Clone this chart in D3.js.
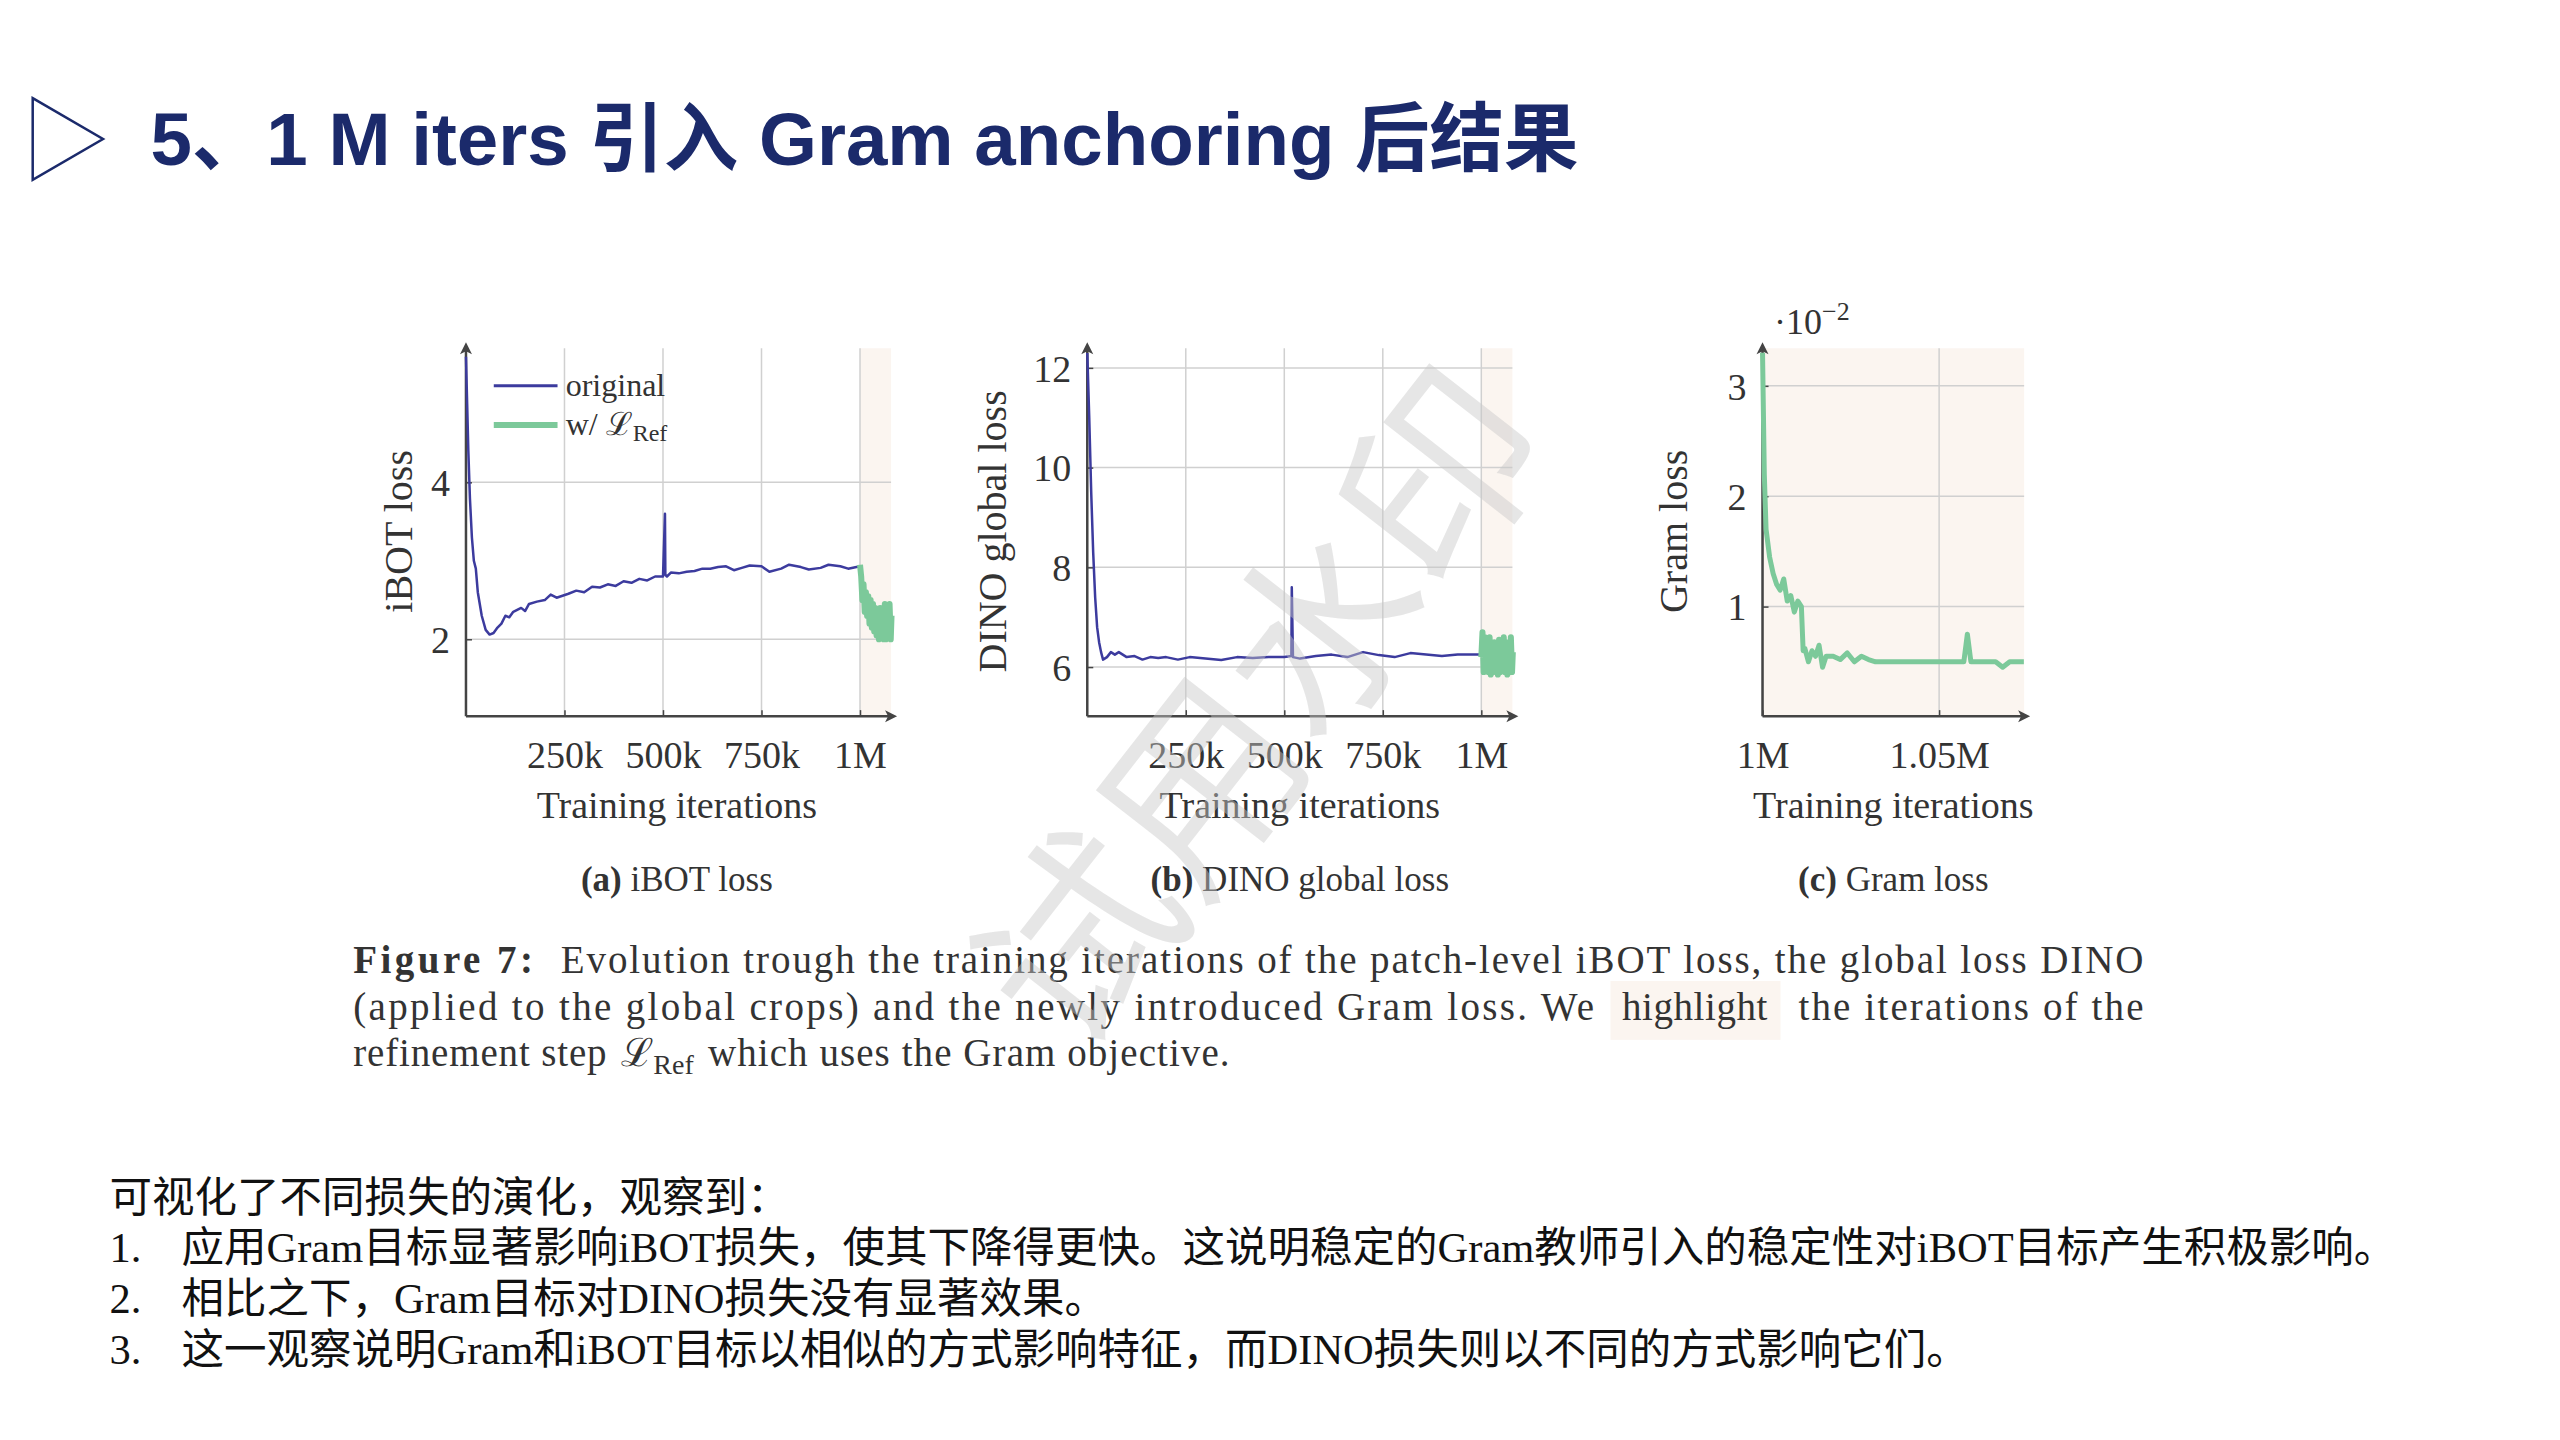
<!DOCTYPE html>
<html><head><meta charset="utf-8">
<script src="https://cdn.jsdelivr.net/npm/d3@7/dist/d3.min.js"></script>
<style>body{margin:0;background:#fff}svg{display:block}</style></head>
<body><svg id="c" width="2560" height="1440"></svg>
<script>
// ---------- data ----------
const ibotX = [0,3,6,10,15,20,25,30,40,50,60,70,80,90,100,110,120,140,150,160,180,200,215,230,260,280,300,320,340,360,380,400,420,440,460,480,500,505,506,510,520,540,560,580,600,620,640,660,680,700,720,750,770,800,820,850,870,900,920,950,970,1000];
const ibotY = [5.6,5.0,4.4,3.8,3.3,3.0,2.9,2.6,2.3,2.12,2.06,2.08,2.15,2.2,2.3,2.28,2.35,2.4,2.36,2.45,2.48,2.5,2.57,2.53,2.58,2.62,2.6,2.67,2.66,2.7,2.68,2.74,2.72,2.77,2.75,2.8,2.8,3.6,2.82,2.8,2.85,2.84,2.86,2.87,2.9,2.9,2.92,2.93,2.88,2.91,2.94,2.93,2.86,2.9,2.95,2.92,2.89,2.91,2.95,2.93,2.9,2.93];
const ibotRefX = [1000,1003,1006,1009,1012,1015,1018,1021,1024,1027,1030,1033,1036,1039,1042,1045,1048,1051,1054,1057,1060,1063,1066,1069,1072,1075,1078,1080];
const ibotRefY = [2.95,2.8,2.5,2.7,2.35,2.6,2.3,2.55,2.2,2.5,2.15,2.45,2.1,2.4,2.05,2.35,2.0,2.4,2.05,2.35,2.0,2.45,2.0,2.4,2.05,2.45,2.0,2.3];
const dinoX = [0,5,10,15,20,25,30,35,40,50,60,70,80,100,120,140,160,180,200,230,260,300,340,380,420,460,500,518,519,522,540,580,620,660,700,740,780,820,860,900,940,1000];
const dinoY = [12.3,11.0,9.5,8.3,7.4,6.8,6.5,6.3,6.15,6.2,6.3,6.25,6.3,6.2,6.22,6.15,6.2,6.18,6.2,6.15,6.2,6.17,6.14,6.2,6.18,6.2,6.2,6.22,7.6,6.2,6.17,6.22,6.25,6.2,6.3,6.24,6.2,6.28,6.25,6.22,6.25,6.25];
const dinoRefX = [1000,1003,1006,1009,1012,1015,1018,1021,1024,1027,1030,1033,1036,1039,1042,1045,1048,1051,1054,1057,1060,1063,1066,1069,1072,1075,1078,1080];
const dinoRefY = [6.2,6.7,5.9,6.6,5.95,6.5,5.9,6.6,5.85,6.45,5.9,6.5,5.95,6.4,5.85,6.55,5.9,6.45,5.95,6.6,5.9,6.5,5.85,6.45,5.95,6.6,5.9,6.3];
const gramX = [1000,1000.5,1001,1002,1003,1004,1005,1006,1007,1008,1009,1010,1011,1011.5,1012,1013,1014,1015,1016,1017,1018,1020,1022,1024,1026,1028,1030,1032,1035,1040,1045,1050,1055,1057,1058,1059,1062,1066,1068,1070,1074];
const gramY = [3.3,2.2,1.7,1.45,1.3,1.2,1.15,1.25,1.05,1.1,0.95,1.05,1.0,0.6,0.62,0.5,0.6,0.55,0.65,0.45,0.55,0.55,0.52,0.58,0.5,0.55,0.52,0.5,0.5,0.5,0.5,0.5,0.5,0.5,0.75,0.5,0.5,0.5,0.45,0.5,0.5];
const ticksAB = [250,500,750,1000];
const tickLabelsAB = ["250k","500k","750k","1M"];
const ticksC = [1000,1050];
const tickLabelsC = ["1M","1.05M"];
const caption = [
 "Figure 7:",
 "Evolution trough the training iterations of the patch-level iBOT loss, the global loss DINO",
 "(applied to the global crops) and the newly introduced Gram loss.  We",
 "highlight",
 "the iterations of the",
 "refinement step",
 "which uses the Gram objective."
];
const notes = [
 "可视化了不同损失的演化，观察到：",
 "应用Gram目标显著影响iBOT损失，使其下降得更快。这说明稳定的Gram教师引入的稳定性对iBOT目标产生积极影响。",
 "相比之下，Gram目标对DINO损失没有显著效果。",
 "这一观察说明Gram和iBOT目标以相似的方式影响特征，而DINO损失则以不同的方式影响它们。"
];

// ---------- layout ----------
const k = 1.635;
const P = v => v*k;
const svg = d3.select("#c");
const BLUE="#3c3b9e", GREEN="#7cc99a", HL="#fbf5f0", GRID="#d0d0d0", TXT="#333";
const SERIF="'Liberation Serif','DejaVu Serif',serif";
const CJK="'Liberation Serif','Noto Sans CJK SC',serif";

// title
svg.append("path").attr("d",`M${P(20)},${P(60)} L${P(63)},${P(85)} L${P(20)},${P(110)} Z`)
  .attr("fill","none").attr("stroke","#1b2a6b").attr("stroke-width",2.5);
svg.append("text").attr("x",P(92)).attr("y",P(101)).attr("font-family","'Liberation Sans','Noto Sans CJK SC',sans-serif")
  .attr("font-weight",700).attr("font-size",74.5).attr("fill","#1b2a6b").text("5、1 M iters 引入 Gram anchoring 后结果");

function panel(o){
  const g = svg.append("g");
  const x = d3.scaleLinear().domain(o.xd).range([P(o.x0),P(o.x1)]);
  const y = d3.scaleLinear().domain(o.yd).range([P(o.y0),P(o.y1)]);
  const top=P(213), bot=P(438), left=P(o.x0), right=P(o.xe);
  g.append("rect").attr("x",x(o.hl)).attr("y",top).attr("width",right-x(o.hl)).attr("height",bot-top).attr("fill",HL);
  o.xt.forEach(t=>g.append("line").attr("x1",x(t)).attr("x2",x(t)).attr("y1",top).attr("y2",bot).attr("stroke",GRID).attr("stroke-width",1.5));
  o.yt.forEach(t=>g.append("line").attr("x1",left).attr("x2",right).attr("y1",y(t)).attr("y2",y(t)).attr("stroke",GRID).attr("stroke-width",1.5));
  const ax = d3.axisBottom(x).tickValues(o.xt).tickFormat((d,i)=>o.xl[i]).tickSize(6).tickSizeOuter(0);
  const ag = g.append("g").attr("transform",`translate(0,${bot})`).call(ax);
  ag.select(".domain").remove();
  ag.selectAll("line").attr("stroke","#444").attr("stroke-width",1.5).attr("y1",-6).attr("y2",0);
  ag.selectAll("text").attr("font-family",SERIF).attr("font-size",38).attr("fill",TXT).attr("dy",0).attr("y",P(470)-bot);
  const ay = d3.axisLeft(y).tickValues(o.yt).tickFormat(d3.format("d")).tickSize(6).tickSizeOuter(0);
  const yg = g.append("g").attr("transform",`translate(${left},0)`).call(ay);
  yg.select(".domain").remove();
  yg.selectAll("line").attr("stroke","#444").attr("stroke-width",1.5).attr("x2",6).attr("x1",0);
  yg.selectAll("text").attr("font-family",SERIF).attr("font-size",38).attr("fill",TXT).attr("x",-16).attr("dy","0.35em");
  g.append("line").attr("x1",left).attr("x2",right).attr("y1",bot).attr("y2",bot).attr("stroke","#444").attr("stroke-width",2.5);
  g.append("line").attr("x1",left).attr("x2",left).attr("y1",bot).attr("y2",top).attr("stroke","#444").attr("stroke-width",2.5);
  g.append("path").attr("d",`M${right+6},${bot} l-12,-6 l3,6 l-3,6 Z`).attr("fill","#444");
  g.append("path").attr("d",`M${left},${top-6} l-6,12 l6,-3 l6,3 Z`).attr("fill","#444");
  const line = d3.line().x(d=>x(d[0])).y(d=>y(d[1]));
  o.series.forEach(s=>{
    g.append("path").datum(d3.zip(s.x,s.y)).attr("d",line).attr("fill","none")
      .attr("stroke",s.c).attr("stroke-width",s.w).attr("stroke-linejoin","round");
  });
  g.append("text").attr("transform",`translate(${P(o.ylx)},${P(325)}) rotate(-90)`).attr("text-anchor","middle")
    .attr("font-family",SERIF).attr("font-size",40).attr("fill",TXT).text(o.ylab);
  g.append("text").attr("x",P(o.tx)).attr("y",P(500)).attr("text-anchor","middle").attr("font-family",SERIF)
    .attr("font-size",38).attr("fill",TXT).text("Training iterations");
  const st = g.append("text").attr("x",P(o.tx)).attr("y",P(545)).attr("text-anchor","middle").attr("font-family",SERIF)
    .attr("font-size",35).attr("fill",TXT);
  st.append("tspan").attr("font-weight",700).text(o.sub[0]);
  st.append("tspan").text(" "+o.sub[1]);
  return {g,x,y};
}

panel({xd:[0,1000],x0:285,x1:526,xe:545,yd:[2,4],y0:391,y1:295,hl:1000,xt:ticksAB,xl:tickLabelsAB,yt:[2,4],
  series:[{x:ibotX,y:ibotY,c:BLUE,w:2.5},{x:ibotRefX,y:ibotRefY,c:GREEN,w:6}],ylab:"iBOT loss",ylx:252,tx:414,sub:["(a)","iBOT loss"]});
panel({xd:[0,1000],x0:665,x1:906,xe:925,yd:[6,12],y0:408,y1:225,hl:1000,xt:ticksAB,xl:tickLabelsAB,yt:[6,8,10,12],
  series:[{x:dinoX,y:dinoY,c:BLUE,w:2.5},{x:dinoRefX,y:dinoRefY,c:GREEN,w:6}],ylab:"DINO global loss",ylx:615,tx:795,sub:["(b)","DINO global loss"]});
panel({xd:[1000,1050],x0:1078,x1:1186,xe:1238,yd:[1,3],y0:371,y1:236,hl:1000,xt:ticksC,xl:tickLabelsC,yt:[1,2,3],
  series:[{x:gramX,y:gramY,c:GREEN,w:5}],ylab:"Gram loss",ylx:1032,tx:1158,sub:["(c)","Gram loss"]});
svg.append("text").attr("x",P(1085)).attr("y",P(204)).attr("font-family",SERIF).attr("font-size",36).attr("fill",TXT)
  .text("·10").append("tspan").attr("dy",-14).attr("font-size",26).text("−2");

// legend
const lg = svg.append("g");
lg.append("line").attr("x1",P(302)).attr("x2",P(341)).attr("y1",P(236)).attr("y2",P(236)).attr("stroke",BLUE).attr("stroke-width",3);
lg.append("line").attr("x1",P(302)).attr("x2",P(341)).attr("y1",P(260)).attr("y2",P(260)).attr("stroke",GREEN).attr("stroke-width",6);
lg.append("text").attr("x",P(346)).attr("y",P(242)).attr("font-family",SERIF).attr("font-size",32).attr("fill",TXT).text("original");
const l2=lg.append("text").attr("x",P(346)).attr("y",P(266)).attr("font-family",SERIF).attr("font-size",32).attr("fill",TXT);
l2.append("tspan").text("w/ ");
l2.append("tspan").text("ℒ");
l2.append("tspan").attr("font-size",24).attr("dy",6).text("Ref");

// caption
const cf = {"font-family":SERIF,"font-size":39,"fill":TXT};
function tx(xx,yy,s,extra){const t=svg.append("text").attr("x",P(xx)).attr("y",P(yy));Object.entries(cf).forEach(([a,b])=>t.attr(a,b));if(extra)Object.entries(extra).forEach(([a,b])=>t.attr(a,b));t.text(s);return t;}
tx(216,595,caption[0],{"font-weight":700,textLength:P(326-216),lengthAdjust:"spacing"});
tx(343,595,caption[1],{textLength:P(1311-343),lengthAdjust:"spacing"});
svg.append("rect").attr("x",P(985)).attr("y",P(600)).attr("width",P(104)).attr("height",P(36)).attr("fill",HL);
tx(216,624,caption[2],{textLength:P(975-216),lengthAdjust:"spacing"});
tx(992,624,caption[3],{textLength:P(1081-992),lengthAdjust:"spacing"});
tx(1100,624,caption[4],{textLength:P(1311-1100),lengthAdjust:"spacing"});
tx(216,652,caption[5],{textLength:P(371-216),lengthAdjust:"spacing"});
const lr=tx(380,652,""); lr.append("tspan").text("ℒ"); lr.append("tspan").attr("font-size",28).attr("dy",8).text("Ref");
tx(433,652,caption[6],{textLength:P(752-433),lengthAdjust:"spacing"});

// watermark
svg.append("text").attr("transform",`translate(${P(780)},${P(440)}) rotate(-52)`).attr("text-anchor","middle")
  .attr("dominant-baseline","middle").attr("font-family","'Noto Sans CJK SC',sans-serif").attr("font-size",P(120))
  .attr("fill","#c8c8c8").attr("fill-opacity",0.45).text("试用水印");

// notes
const nf = {"font-family":CJK,"font-size":42.5,"fill":"#111"};
const ny=[741,772,803,834];
notes.forEach((s,i)=>{
  if(i>0){const t=svg.append("text").attr("x",P(67)).attr("y",P(ny[i])).text(i+".");Object.entries(nf).forEach(([a,b])=>t.attr(a,b));}
  const t=svg.append("text").attr("x",P(i?111:67)).attr("y",P(ny[i])).text(s);Object.entries(nf).forEach(([a,b])=>t.attr(a,b));
});
</script></body></html>
